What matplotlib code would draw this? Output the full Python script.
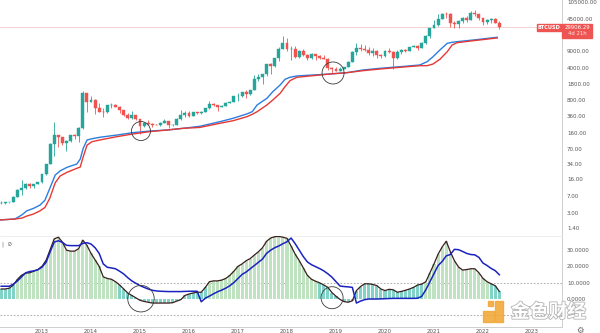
import matplotlib
matplotlib.use('Agg')
import matplotlib.pyplot as plt
import matplotlib.patheffects as pe
from matplotlib.patches import Rectangle
from matplotlib.ticker import NullLocator

plt.rcParams['font.family'] = ['DejaVu Sans']

# ---------------- data (monthly BTCUSD, Mar 2012 .. May 2022) ----------------
opens = [4.9, 4.9, 5.0, 5.2, 6.7, 9.4, 10.2, 12.4, 11.2, 12.6,
         13.5, 20.4, 33.4, 93, 139, 129, 97, 106, 141, 133, 204, 1130,
         732, 800, 550, 450, 445, 625, 640, 580, 480, 386, 338, 378,
         320, 217, 254, 244, 236, 230, 263, 284, 230, 236, 314, 377,
         430, 368, 437, 416, 448, 531, 673, 624, 573, 609, 700, 742,
         963, 970, 1190, 1080, 1350, 2300, 2480, 2870, 4730, 4340, 6470, 9950,
         13880, 10220, 10330, 6930, 9240, 7490, 6390, 7730, 7030, 6630, 6320, 4040,
         3740, 3460, 3810, 4100, 5330, 8570, 10820, 10080, 9630, 8290, 9150, 7560,
         7200, 9350, 8540, 6420, 8630, 9450, 9140, 11350, 11660, 10780, 13800, 19700,
         28990, 33100, 45200, 58800, 57700, 37300, 35000, 41500, 47100, 43800, 61300, 57000,
         46200, 38500, 43200, 45500, 37700]
highs = [5.4, 5.2, 5.2, 6.8, 9.6, 15.4, 12.9, 12.9, 12.8, 13.8,
         20.7, 33.6, 95, 266, 140, 129, 110, 141, 149, 214, 1240, 1160,
         1000, 830, 710, 550, 630, 680, 660, 600, 500, 420, 460, 380,
         320, 265, 300, 262, 248, 268, 318, 285, 245, 335, 500, 467,
         463, 448, 439, 466, 550, 780, 703, 626, 629, 719, 755, 975,
         1153, 1210, 1350, 1350, 2760, 3000, 2920, 4770, 4990, 6470, 11300, 19700,
         17200, 11790, 11700, 9760, 10000, 7780, 8500, 7760, 7400, 7680, 6580, 4240,
         4070, 4200, 4110, 5640, 9000, 13880, 13200, 12330, 10950, 10540, 9510, 7750,
         9580, 10500, 9200, 9470, 10080, 10380, 11450, 12480, 12080, 14100, 19900, 29300,
         41950, 58350, 61780, 64850, 59600, 41300, 42600, 50500, 52900, 67000, 69000, 59000,
         47990, 45800, 48200, 47500, 40000]
lows = [4.7, 4.7, 4.9, 5.2, 6.5, 7.1, 9.9, 10.1, 10.4, 12.5,
        13.1, 19.4, 33.2, 50, 80, 86, 65, 100, 117, 100, 196, 455,
        730, 410, 440, 340, 420, 540, 570, 430, 360, 320, 320, 300,
        152, 212, 235, 212, 228, 218, 253, 198, 225, 236, 305, 350,
        350, 366, 406, 413, 444, 526, 600, 470, 568, 605, 682, 742,
        750, 946, 890, 1060, 1350, 2100, 1830, 2670, 2980, 4100, 5500, 9950,
        9000, 5900, 6600, 6430, 7030, 5750, 6080, 5880, 6120, 6200, 3650, 3120,
        3350, 3390, 3740, 4090, 5320, 7460, 9070, 9350, 7700, 7300, 6520, 6430,
        6860, 8450, 3850, 6150, 8110, 8830, 8990, 10980, 9880, 10430, 13200, 17600,
        28130, 32300, 45000, 47000, 30000, 28800, 29300, 37300, 39600, 43300, 53300, 42000,
        32900, 34300, 37200, 37500, 26700]
closes = [4.9, 5.0, 5.2, 6.7, 9.4, 10.2, 12.4, 11.2, 12.6, 13.5,
          20.4, 33.4, 93, 139, 129, 97, 106, 141, 133, 204, 1130, 732,
          800, 550, 450, 445, 625, 640, 580, 480, 386, 338, 378, 320,
          217, 254, 244, 236, 230, 263, 284, 230, 236, 314, 377, 430,
          368, 437, 416, 448, 531, 673, 624, 573, 609, 700, 742, 963,
          970, 1190, 1080, 1350, 2300, 2480, 2870, 4730, 4340, 6470, 9950, 13880,
          10220, 10330, 6930, 9240, 7490, 6390, 7730, 7030, 6630, 6320, 4040, 3740,
          3460, 3810, 4100, 5330, 8570, 10820, 10080, 9630, 8290, 9150, 7560, 7200,
          9350, 8540, 6420, 8630, 9450, 9140, 11350, 11660, 10780, 13800, 19700, 28990,
          33100, 45200, 58800, 57700, 37300, 35000, 41500, 47100, 43800, 61300, 57000, 46200,
          38500, 43200, 45500, 37700, 29906.29]

# two long moving averages (decimal year, price)
ma_years = [2012.14, 2012.45, 2012.59, 2012.69, 2012.82, 2012.96, 2013.06, 2013.16,
            2013.27, 2013.37, 2013.51, 2013.71, 2013.78, 2013.84, 2013.92, 2014.02,
            2014.18, 2014.53, 2014.86, 2015.20, 2015.55, 2015.88, 2016.22, 2016.63,
            2016.90, 2017.18, 2017.29, 2017.39, 2017.59, 2017.71, 2017.86, 2017.96,
            2018.06, 2018.20, 2018.53, 2018.88, 2019.22, 2019.55, 2019.90, 2020.31,
            2020.71, 2020.86, 2020.98, 2021.12, 2021.27, 2021.37, 2021.47, 2021.80,
            2022.29]
ma_blue = [2.1, 2.2, 2.7, 3.3, 3.7, 4.4, 5.6, 10.1, 19.5, 24, 28.6, 33.7, 43, 73,
           111, 118, 127, 142, 160, 173, 182, 198, 219, 275, 326, 404, 452, 631,
           879, 1219, 1702, 2255, 2493, 2661, 2793, 2937, 3133, 3581, 3893, 4217,
           4587, 5404, 6924, 9656, 13460, 14150, 14580, 15850, 18150]
ma_red = [2.1, 2.2, 2.3, 2.55, 2.8, 3.3, 3.9, 6.2, 13.3, 18.6, 22.3, 27.2, 29, 48,
          86, 102, 111, 131, 150, 168, 182, 198, 207, 254, 289, 352, 397, 452,
          631, 807, 1127, 1563, 2104, 2493, 2698, 2937, 3133, 3459, 3758, 4093,
          4433, 4433, 4820, 6081, 8870, 12380, 13870, 15310, 17540]

# oscillator pane (monthly)
osc_hist = [6, 6, 6.5, 8.5, 12, 14.5, 15.8, 16, 17, 18,
            20, 23.7, 30.4, 37, 38, 35, 30, 29.4, 29.4, 31, 36.2, 33,
            28, 24, 20, 13.5, 12.5, 12, 10.5, 8.5, 6, 3.5, 2, 0.5,
            -1, -1.7, -2.2, -2.7, -2.7, -2.7, -2.7, -2.7, -2.5, -1.5, -0.6, 2,
            2.9, 3.5, 4, 4, 7, 10.5, 11, 11, 11.5, 12.5, 14.4, 17,
            20, 21.5, 23.5, 24.8, 27, 29, 31.5, 35.5, 37.5, 38.3, 38.5, 38,
            37.3, 32.5, 27.5, 23.5, 19, 14.4, 12, 10.8, 9.8, 8.5, 7, 3.8,
            1.5, -0.5, -1.8, -2.2, -1.3, 5, 7.5, 9.2, 9.2, 8.8, 8.1, 6,
            5, 5.8, 5.5, 4, 4.5, 5.2, 6, 7, 8.5, 9, 10.5, 16,
            21.5, 27.5, 32, 35.5, 29, 23.5, 19.6, 17.7, 18, 18.5, 18.5, 16,
            12.5, 10.5, 9.2, 8, 4.5]
osc_signal = [7.7, 7.7, 7.7, 9, 11, 13.5, 16, 16.8, 17.2, 17.9,
              19.5, 22.5, 29, 35, 35.8, 34.8, 33, 32.8, 32.8, 32.8, 34.2, 34.6,
              33.8, 31.5, 28, 21.5, 19.4, 19, 18.5, 17, 15.3, 13, 11, 9.5,
              8.1, 7, 6, 5.2, 4.8, 4.6, 4.5, 4.4, 4.4, 4.4, 4.4, 4.5,
              4.6, 4.6, 4.6, -1.9, 0.3, 1.6, 3, 4.3, 5.3, 6.5, 8, 10,
              12.5, 15, 16.5, 18.5, 20.5, 22.5, 24.5, 28, 30, 31.5, 32.6, 34,
              35.2, 37.5, 34, 30, 26, 22.7, 21, 19.8, 18.6, 17.2, 15.4, 13.3,
              10.5, 7.8, 7.5, 7.3, 7, -2.7, -1.5, -0.6, -0.2, -0.2, -0.2, -0.1,
              0, 0.1, 0.2, 0.2, 0.2, 0.2, 0.2, 0.2, 0.3, 1.5, 5.5, 10.5,
              15.5, 20.5, 23, 26.5, 27.3, 30.5, 30.3, 29.2, 28, 27.3, 27.1, 25.5,
              22, 20.5, 18.7, 17.3, 14.8]

price_ticks = [105000, 45000, 9000, 4000, 1800, 800, 360, 160, 70, 34, 16, 7, 3, 1.4]
osc_ticks = [30, 20, 10, 0]
year_ticks = list(range(2013, 2024))

# annotation circles: (decimal year, value, marker size)
price_circles = [(2015.02, 173, 187), (2018.94, 3085, 251)]
osc_circles = [(2015.02, 0.0, 364), (2018.92, 0.6, 251)]

symbol = 'BTCUSD'
countdown = '4d 21h'

# ---------------- figure ----------------
W, H = 600, 333
fig = plt.figure(figsize=(W / 100, H / 100), dpi=100)
fig.patch.set_facecolor('white')


def px_rect(x0, y0, x1, y1):
    return [x0 / W, 1 - y1 / H, (x1 - x0) / W, (y1 - y0) / H]


ax = fig.add_axes(px_rect(0, 0, 562, 235))
ax2 = fig.add_axes(px_rect(0, 236, 562, 327), sharex=ax)

months = [2012 + 2 / 12 + i / 12 for i in range(len(closes))]
GREEN, RED = '#26a69a', '#ef5350'
cols = [GREEN if c >= o else RED for o, c in zip(opens, closes)]

ax.set_yscale('log')
ax.vlines(months, lows, highs, colors=cols, lw=0.6, zorder=3)
ax.bar(months, [abs(c - o) for o, c in zip(opens, closes)],
       bottom=[min(o, c) for o, c in zip(opens, closes)],
       width=0.06, color=cols, edgecolor=cols, linewidth=0.3, zorder=4)
ax.axhline(closes[-1], color='#f5cccc', lw=0.6, zorder=1)
ax.plot(ma_years, ma_blue, color='#2b7de0', lw=1.0, zorder=5)
ax.plot(ma_years, ma_red, color='#e53935', lw=1.0, zorder=5)
for xx, yy, s in price_circles:
    ax.scatter([xx], [yy], s=s, facecolors='none', edgecolors='#3a3a3a', linewidths=0.6, zorder=6)

ax.set_xlim(2012.143, 2023.612)
ax.set_ylim(0.995, 115400)
ax.yaxis.tick_right()
ax.set_yticks(price_ticks)
ax.set_yticklabels([f'{v:.2f}' for v in price_ticks])
ax.yaxis.set_minor_locator(NullLocator())
ax.tick_params(axis='y', length=0, pad=3.5, labelsize=4, labelcolor='#555555')
ax.tick_params(axis='x', bottom=False, labelbottom=False)
for side in ['top', 'left', 'bottom']:
    ax.spines[side].set_visible(False)
ax.spines['right'].set_color('#c8c8c8')
ax.spines['right'].set_linewidth(0.6)

# oscillator pane
hcols = ['#bfe3c0' if h > 10 else '#80d3c6' for h in osc_hist]
ax2.bar(months, osc_hist, width=0.064, color=hcols, linewidth=0, zorder=2)
ax2.plot(months, osc_hist, color='#3a1e1e', lw=0.9, zorder=4)
ax2.plot(months, osc_signal, color='#1a23c0', lw=1.1, zorder=5)
for lvl in (10, -10):
    ax2.axhline(lvl, color='#a0a0a0', lw=0.6, ls=(0, (2, 2)), zorder=1)
for xx, yy, s in osc_circles:
    ax2.scatter([xx], [yy], s=s, facecolors='none', edgecolors='#3a3a3a', linewidths=0.6, zorder=6)
ax2.set_ylim(-17.5, 38.75)
ax2.yaxis.tick_right()
ax2.set_yticks(osc_ticks)
ax2.set_yticklabels([f'{v:.4f}' for v in osc_ticks])
ax2.tick_params(axis='y', length=0, pad=3.5, labelsize=4, labelcolor='#555555')
ax2.set_xticks(year_ticks)
ax2.set_xticklabels([str(y) for y in year_ticks])
ax2.tick_params(axis='x', length=0, pad=1.2, labelsize=4, labelcolor='#555555')
ax2.spines['left'].set_visible(False)
for side in ['right', 'bottom']:
    ax2.spines[side].set_color('#c8c8c8')
    ax2.spines[side].set_linewidth(0.6)
ax2.spines['top'].set_color('#e8e8e8')
ax2.spines['top'].set_linewidth(0.5)

# price label on the axis
py = H - ax.transData.transform((months[-1], closes[-1]))[1]
fig.patches.append(Rectangle((562 / W, 1 - (py + 11) / H), 30 / W, 14.5 / H,
                             transform=fig.transFigure, color='#ee5552', zorder=10))
fig.patches.append(Rectangle((537 / W, 1 - (py + 3.5) / H), 24 / W, 7 / H,
                             transform=fig.transFigure, color='#ee5552', zorder=10))
fig.text(577 / W, 1 - (py + 0.3) / H, f'{closes[-1]:.2f}', color='white', fontsize=3.9,
         ha='center', va='center', zorder=11)
fig.text(577 / W, 1 - (py + 6.6) / H, countdown, color='#ffe3e3', fontsize=3.9,
         ha='center', va='center', zorder=11)
fig.text(549 / W, 1 - py / H, symbol, color='white', fontsize=3.6, fontweight='bold',
         ha='center', va='center', zorder=11)

# pane icon and settings gear
fig.text(2 / W, 1 - 244 / H, '|  ⊘', color='#666666', fontsize=4, ha='left', va='center')
fig.text(580 / W, 1 - 330 / H, '⚙', color='#666666', fontsize=6, ha='center', va='center')

# watermark
for (x0, y0, x1, y1) in [(495, 301, 503, 322), (483, 311, 494, 322), (488, 301, 493, 306)]:
    fig.patches.append(Rectangle((x0 / W, 1 - y1 / H), (x1 - x0) / W, (y1 - y0) / H,
                                 transform=fig.transFigure, color='#f2a531', alpha=0.85, zorder=9))
fig.text(548.5 / W, 1 - 312 / H, '金色财经', family=['Noto Sans CJK SC', 'DejaVu Sans'],
         fontsize=13.5, fontweight='bold', color='white', ha='center', va='center', zorder=9,
         path_effects=[pe.withStroke(linewidth=1.2, foreground='#b5b5b5')])

fig.savefig('out.png', dpi=100)
